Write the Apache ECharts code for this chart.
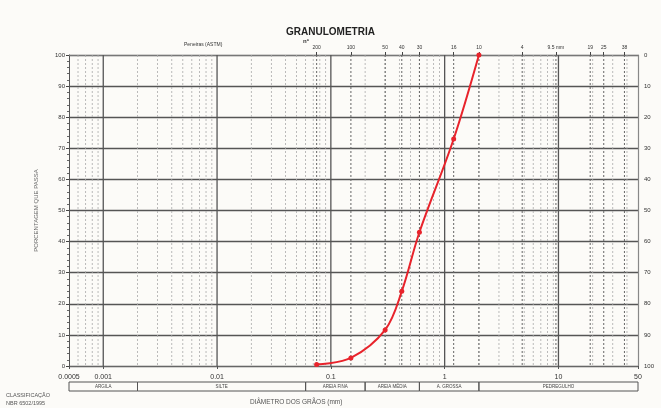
<!DOCTYPE html>
<html>
<head>
<meta charset="utf-8">
<script src="https://cdn.jsdelivr.net/npm/echarts@6/dist/echarts.min.js"></script>
<style>
  html, body { margin: 0; padding: 0; background: #fcfbf8; }
  #chart { width: 661px; height: 408px; }
</style>
</head>
<body>
<div id="chart"></div>
<script>
// Grain-size curve: sieve openings (mm) and cumulative percent passing
const grainSize = [0.075, 0.15, 0.3, 0.42, 0.6, 1.2, 2.0];
const percentPassing = [0.5, 2.6, 11.6, 24, 43, 73, 100];

// ASTM sieve marks along the top axis
const sieveOpenings = [0.075, 0.15, 0.3, 0.42, 0.6, 1.2, 2.0, 4.8, 9.5, 19, 25, 38];
const sieveLabels = ['200', '100', '50', '40', '30', '16', '10', '4', '9.5 mm', '19', '25', '38'];

// Bottom diameter labels
const diameterTicks = [0.0005, 0.001, 0.01, 0.1, 1, 10, 50];
const diameterLabels = ['0.0005', '0.001', '0.01', '0.1', '1', '10', '50'];

// Soil classification bands (NBR 6502/1995)
const classBounds = [0.0005, 0.002, 0.06, 0.2, 0.6, 2.0, 50];
const classNames = ['ARGILA', 'SILTE', 'AREIA FINA', 'AREIA MÉDIA', 'A. GROSSA', 'PEDREGULHO'];

const X_MIN = 0.0005, X_MAX = 50;

// log-grid helper lines: decades and the 2..9 subdivisions
const decadeLines = [0.001, 0.01, 0.1, 1, 10];
const minorLines = [];
for (let e = -4; e <= 1; e++) {
  for (let k = 2; k <= 9; k++) {
    const v = +(k * Math.pow(10, e)).toPrecision(3);
    if (v > X_MIN && v < X_MAX) minorLines.push(v);
  }
}

const txt = '#333';
const font = 'Liberation Sans, Arial, sans-serif';

const chart = echarts.init(document.getElementById('chart'), null, { renderer: 'canvas' });

// full-height vertical rules at given diameters, placed through the x axis
function vLines(values, style, z) {
  return {
    type: 'custom', xAxisIndex: 0, yAxisIndex: 0, silent: true, z: z,
    data: values.map(v => [v]),
    renderItem: (params, api) => {
      const top = api.coord([api.value(0), 100]);
      const bottom = api.coord([api.value(0), 0]);
      return {
        type: 'line',
        shape: { x1: top[0], y1: top[1], x2: bottom[0], y2: bottom[1] },
        style: Object.assign({ fill: null }, style)
      };
    }
  };
}

chart.setOption({
  backgroundColor: '#fcfbf8',
  animation: false,
  textStyle: { fontFamily: font },
  title: {
    text: 'GRANULOMETRIA', left: 'center', top: 22,
    textStyle: { fontSize: 10, fontWeight: 'bold', color: '#222', fontFamily: font }
  },
  grid: [
    { left: 69, right: 23, top: 55, height: 311 },
    { left: 69, right: 23, top: 382, height: 9 }
  ],
  xAxis: [
    {
      type: 'log', logBase: 10, min: X_MIN, max: X_MAX, gridIndex: 0, position: 'bottom',
      axisLine: { show: true, lineStyle: { color: '#666', width: 1 } },
      axisTick: { show: true, customValues: diameterTicks, length: 3, lineStyle: { color: '#555' } },
      axisLabel: {
        show: true, customValues: diameterTicks, margin: 8, fontSize: 7, color: txt,
        formatter: v => {
          const i = diameterTicks.findIndex(d => Math.abs(Math.log10(d) - Math.log10(v)) < 1e-6);
          return i >= 0 ? diameterLabels[i] : '';
        }
      },
      splitLine: { show: false }, minorTick: { show: false }
    },
    {
      type: 'log', logBase: 10, min: X_MIN, max: X_MAX, gridIndex: 0, position: 'top',
      axisLine: { show: true, lineStyle: { color: '#777', width: 1 } },
      axisTick: { show: true, customValues: sieveOpenings, length: 3, inside: false, lineStyle: { color: '#444' } },
      axisLabel: {
        show: true, customValues: sieveOpenings, margin: 5, fontSize: 5, color: txt,
        formatter: v => {
          const i = sieveOpenings.findIndex(d => Math.abs(Math.log10(d) - Math.log10(v)) < 1e-6);
          return i >= 0 ? sieveLabels[i] : '';
        }
      },
      splitLine: { show: false }
    },
    {
      type: 'log', logBase: 10, min: X_MIN, max: X_MAX, gridIndex: 1, show: false
    }
  ],
  yAxis: [
    {
      type: 'value', min: 0, max: 100, interval: 10, gridIndex: 0, position: 'left',
      name: 'PORCENTAGEM QUE PASSA', nameLocation: 'middle', nameGap: 30, nameRotate: 90,
      nameTextStyle: { fontSize: 6, color: '#666' },
      axisLine: { show: true, lineStyle: { color: '#555', width: 1 } },
      axisTick: { show: true, length: 3, lineStyle: { color: '#444' } },
      minorTick: { show: true, splitNumber: 5, length: 2, lineStyle: { color: '#666' } },
      axisLabel: { fontSize: 6, color: txt, margin: 4 },
      splitLine: { show: true, lineStyle: { color: '#555', width: 1.3 } }
    },
    {
      type: 'value', min: 0, max: 100, interval: 10, gridIndex: 0, position: 'right', inverse: true,
      axisLine: { show: true, lineStyle: { color: '#888', width: 1.2 } },
      axisTick: { show: false },
      axisLabel: { fontSize: 6, color: txt, margin: 6 },
      splitLine: { show: false }
    },
    { type: 'value', min: 0, max: 1, gridIndex: 1, show: false }
  ],
  graphic: [
    { type: 'text', left: 184, top: 42, style: { text: 'Peneiras (ASTM)', fontSize: 5, fill: txt, fontFamily: font } },
    { type: 'text', left: 303, top: 38, style: { text: 'nº', fontSize: 6, fontWeight: 'bold', fill: txt, fontFamily: font } },
    { type: 'text', left: 6, top: 392, style: { text: 'CLASSIFICAÇÃO', fontSize: 5.5, fill: '#555', fontFamily: font } },
    { type: 'text', left: 6, top: 400, style: { text: 'NBR 6502/1995', fontSize: 5.5, fill: '#555', fontFamily: font } },
    { type: 'text', left: 250, top: 399, style: { text: 'DIÂMETRO DOS GRÃOS (mm)', fontSize: 6.5, fill: '#555', fontFamily: font } }
  ],
  series: [
    vLines(minorLines, { stroke: '#aaa', lineWidth: 0.8, lineDash: [2, 2] }, 1),
    vLines(sieveOpenings, { stroke: '#666', lineWidth: 1, lineDash: [2, 2] }, 2),
    vLines(decadeLines, { stroke: '#555', lineWidth: 1.3 }, 3),
    {
      type: 'custom', xAxisIndex: 2, yAxisIndex: 2, silent: true,
      data: classNames.map((n, i) => [classBounds[i], classBounds[i + 1], n]),
      renderItem: (params, api) => {
        const p0 = api.coord([api.value(0), 1]);
        const p1 = api.coord([api.value(1), 0]);
        return {
          type: 'rect',
          shape: { x: p0[0], y: p0[1], width: p1[0] - p0[0], height: p1[1] - p0[1] },
          style: { fill: 'none', stroke: '#555', lineWidth: 1 },
          textContent: { style: { text: classNames[params.dataIndex], fontSize: 4.5, fill: '#444', fontFamily: font } },
          textConfig: { position: 'inside' }
        };
      }
    },
    {
      name: 'Passante', type: 'line', xAxisIndex: 0, yAxisIndex: 0,
      data: grainSize.map((d, i) => [d, percentPassing[i]]),
      smooth: 0.35,
      symbol: 'circle', symbolSize: 5,
      lineStyle: { color: '#e8232b', width: 2 },
      itemStyle: { color: '#e8232b' },
      z: 10
    }
  ]
});
</script>
</body>
</html>
